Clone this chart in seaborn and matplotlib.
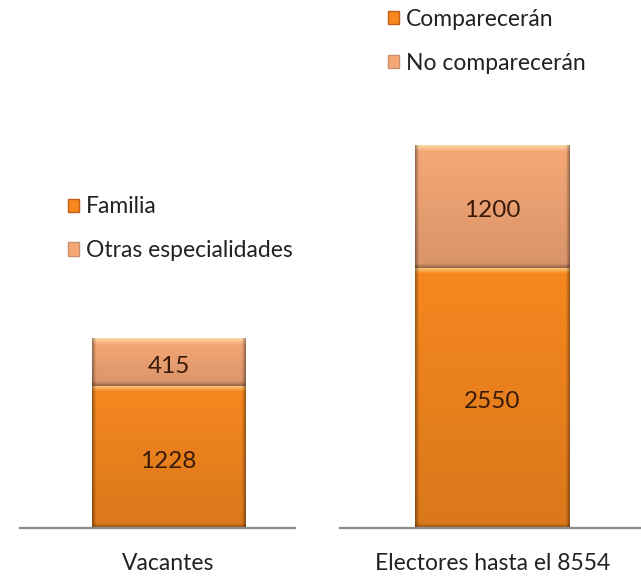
import numpy as np
import matplotlib
matplotlib.use("Agg")
import matplotlib.pyplot as plt
import matplotlib.colors as mcolors
from matplotlib.patches import Patch
import seaborn as sns

# data
left_category = "Vacantes"
left_series = ["Familia", "Otras especialidades"]
left_values = [1228, 415]

right_category = "Electores hasta el 8554"
right_series = ["Comparecerán", "No comparecerán"]
right_values = [2550, 1200]

DARK_ORANGE = "#F7881F"
LIGHT_ORANGE = "#F6A877"
TEXT_DARK = "#3A1A0A"


def bevel_image(color, w_px, h_px, edge=6):
    """RGB array imitating the Excel 'bevel' fill."""
    base = np.array(mcolors.to_rgb(color))
    h = max(int(h_px), 4)
    w = max(int(w_px), 4)
    yy = np.linspace(0, 1, h)[:, None]  # 0 = top
    shade = 1.0 - 0.12 * yy  # slightly darker toward the bottom
    img = base[None, None, :] * shade[..., None] * np.ones((1, w, 1))
    # top highlight
    top = np.clip(1 - np.arange(h) / edge, 0, 1)[:, None, None]
    img = img * (1 - 0.65 * top) + np.array([1.0, 0.94, 0.72]) * 0.65 * top
    # darker bottom rim
    bot = np.clip(1 - (h - 1 - np.arange(h)) / (edge * 0.7), 0, 1)[:, None, None]
    img = img * (1 - 0.3 * bot)
    # darker side rims
    side = np.clip(1 - np.minimum(np.arange(w), w - 1 - np.arange(w)) / (edge * 0.6), 0, 1)
    img = img * (1 - 0.35 * side[None, :, None])
    return np.clip(img, 0, 1)


def draw_stack(ax, category, values, xlim, ylim):
    total = sum(values)
    sns.barplot(x=[category], y=[total], color=LIGHT_ORANGE, width=0.6,
                saturation=1, ax=ax)
    sns.barplot(x=[category], y=[values[0]], color=DARK_ORANGE, width=0.6,
                saturation=1, ax=ax)
    ax.set_xlim(*xlim)
    ax.set_ylim(0, ylim)
    fig = ax.figure
    fig.canvas.draw()
    # overlay bevel gradients on each segment
    bottoms = [0, values[0]]
    colors = [DARK_ORANGE, LIGHT_ORANGE]
    for b, v, c in zip(bottoms, values, colors):
        p0 = ax.transData.transform((-0.3, b))
        p1 = ax.transData.transform((0.3, b + v))
        img = bevel_image(c, p1[0] - p0[0], p1[1] - p0[1])
        ax.imshow(img, extent=(-0.3, 0.3, b, b + v), aspect="auto",
                  origin="upper", zorder=3, interpolation="bilinear")
        ax.annotate(str(v), (0, b + v / 2), xytext=(0, -3),
                    textcoords="offset points", ha="center", va="center",
                    color=TEXT_DARK, fontsize=17.5, zorder=5)
    ax.set_xlim(*xlim)
    ax.set_ylim(0, ylim)
    for s in ["top", "left", "right"]:
        ax.spines[s].set_visible(False)
    ax.spines["bottom"].set_color("#8C8C8C")
    ax.spines["bottom"].set_linewidth(1.6)
    ax.spines["bottom"].set_zorder(6)
    ax.set_yticks([])
    ax.set_ylabel("")
    ax.tick_params(axis="x", length=0, pad=18, labelsize=16.5, labelcolor="#222222")


def main():
    sns.set_style("white")
    plt.rcParams["font.family"] = ["Lato", "DejaVu Sans"]

    fig = plt.figure(figsize=(6.41, 5.76), dpi=100)
    ax1 = fig.add_axes([20 / 641, 48 / 576, 275 / 641, 428 / 576])
    ax2 = fig.add_axes([340 / 641, 48 / 576, 301 / 641, 428 / 576])

    draw_stack(ax1, left_category, left_values, (-0.582, 0.496), 428 * 8.647)
    draw_stack(ax2, right_category, right_values, (-0.591, 0.575), 428 * 9.79)

    for ax, names, anchor in [(ax1, left_series, (68 / 641, 0.603)),
                              (ax2, right_series, (388 / 641, 0.928))]:
        handles = [Patch(facecolor=DARK_ORANGE, edgecolor="#C0601A"),
                   Patch(facecolor=LIGHT_ORANGE, edgecolor="#C89070")]
        ax.legend(handles, names, loc="center left", bbox_to_anchor=anchor,
                  bbox_transform=fig.transFigure, frameon=False,
                  handlelength=0.5, handleheight=0.5, handletextpad=0.3,
                  labelspacing=1.0, borderpad=0, borderaxespad=0,
                  fontsize=16.5, labelcolor="#222222")

    fig.savefig("out.png", dpi=100)


if __name__ == "__main__":
    main()
